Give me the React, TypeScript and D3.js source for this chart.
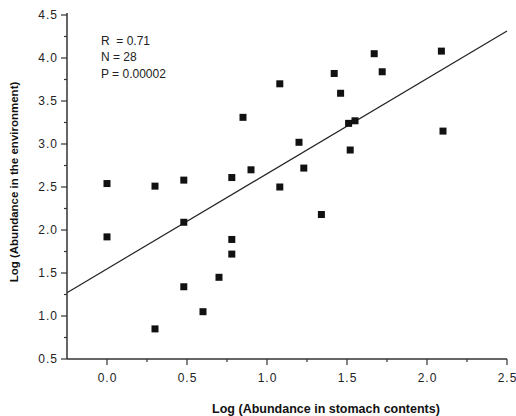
import React from "react";
import * as d3 from "d3";

// Data
const stomachLog: number[] = [
  0.0, 0.0, 0.30, 0.30, 0.48, 0.48, 0.48, 0.60, 0.70, 0.78, 0.78, 0.78, 0.85, 0.90,
  1.08, 1.08, 1.20, 1.23, 1.34, 1.42, 1.46, 1.51, 1.55, 1.52, 1.67, 1.72, 2.09, 2.10,
];
const environmentLog: number[] = [
  2.54, 1.92, 0.85, 2.51, 2.58, 2.09, 1.34, 1.05, 1.45, 1.89, 1.72, 2.61, 3.31, 2.70,
  3.70, 2.50, 3.02, 2.72, 2.18, 3.82, 3.59, 3.24, 3.27, 2.93, 4.05, 3.84, 4.08, 3.15,
];
const xTicks: number[] = [0.0, 0.5, 1.0, 1.5, 2.0, 2.5];
const xMinorTicks: number[] = [0.25, 0.75, 1.25, 1.75, 2.25];
const yTicks: number[] = [0.5, 1.0, 1.5, 2.0, 2.5, 3.0, 3.5, 4.0, 4.5];
const yMinorTicks: number[] = [0.75, 1.25, 1.75, 2.25, 2.75, 3.25, 3.75, 4.25];
const fitIntercept = 1.548;
const fitSlope = 1.1065;
const statsLines: string[] = ["R  = 0.71", "N = 28", "P = 0.00002"];
const xTitle = "Log (Abundance in stomach contents)";
const yTitle = "Log (Abundance in the environment)";

const W = 516;
const H = 416;
const left = 67;
const right = 507;
const top = 15;
const bottom = 359;

export default function App() {
  const x = d3.scaleLinear().domain([-0.25, 2.5]).range([left, right]);
  const y = d3.scaleLinear().domain([0.5, 4.5]).range([bottom, top]);
  const fmt = d3.format(".1f");
  const fitLine = d3
    .line<number>()
    .x((d) => x(d))
    .y((d) => y(fitIntercept + fitSlope * d));
  const points = stomachLog.map((v, i) => ({ x: v, y: environmentLog[i] }));
  const sq = 7;
  const font = "'Liberation Sans', Arial, sans-serif";
  const axisColor = "#333";
  const textColor = "#222";

  return (
    <svg
      width={W}
      height={H}
      style={{ position: "absolute", left: 0, top: 0, background: "#fff" }}
      fontFamily={font}
    >
      <rect x={0} y={0} width={W} height={H} fill="#fff" />
      {/* regression line */}
      <path d={fitLine([-0.25, 2.5]) || ""} fill="none" stroke="#222" strokeWidth={1.2} />
      {/* points */}
      {points.map((p, i) => (
        <rect
          key={i}
          x={x(p.x) - sq / 2}
          y={y(p.y) - sq / 2}
          width={sq}
          height={sq}
          fill="#111"
        />
      ))}
      {/* axes */}
      <line x1={left} x2={left} y1={top - 2} y2={bottom} stroke={axisColor} strokeWidth={1.5} />
      <line x1={left} x2={right} y1={bottom} y2={bottom} stroke={axisColor} strokeWidth={1.5} />
      {yTicks.map((t) => (
        <g key={"y" + t}>
          <line x1={left - 6} x2={left} y1={y(t)} y2={y(t)} stroke={axisColor} strokeWidth={1.2} />
          <text
            x={left - 9}
            y={y(t)}
            dy="0.36em"
            textAnchor="end"
            fontSize={12}
            letterSpacing={1}
            fill={textColor}
          >
            {fmt(t)}
          </text>
        </g>
      ))}
      {yMinorTicks.map((t) => (
        <line key={"ym" + t} x1={left - 3} x2={left} y1={y(t)} y2={y(t)} stroke={axisColor} strokeWidth={1.2} />
      ))}
      {xTicks.map((t) => (
        <g key={"x" + t}>
          <line x1={x(t)} x2={x(t)} y1={bottom} y2={bottom + 6} stroke={axisColor} strokeWidth={1.2} />
          <text
            x={x(t) + 0.5}
            y={382}
            textAnchor="middle"
            fontSize={12}
            letterSpacing={1}
            fill={textColor}
          >
            {fmt(t)}
          </text>
        </g>
      ))}
      {xMinorTicks.map((t) => (
        <line key={"xm" + t} x1={x(t)} x2={x(t)} y1={bottom} y2={bottom + 3} stroke={axisColor} strokeWidth={1.2} />
      ))}
      {/* stats annotation */}
      {statsLines.map((s, i) => (
        <text
          key={s}
          x={101}
          y={45 + i * 16.3}
          fontSize={12}
          fill={textColor}
          xmlSpace="preserve"
          style={{ whiteSpace: "pre" }}
        >
          {s}
        </text>
      ))}
      {/* axis titles */}
      <text x={326} y={413} textAnchor="middle" fontSize={12.5} fontWeight="bold" fill="#111">
        {xTitle}
      </text>
      <text
        transform={`translate(18, 182) rotate(-90)`}
        textAnchor="middle"
        fontSize={11.5}
        fontWeight="bold"
        fill="#111"
      >
        {yTitle}
      </text>
    </svg>
  );
}
